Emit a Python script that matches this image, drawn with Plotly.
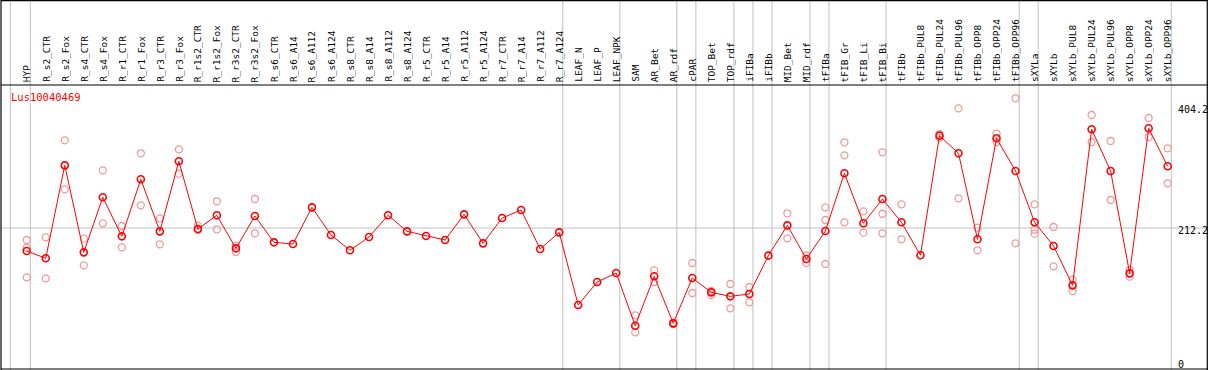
import plotly.graph_objects as go

gene = "Lus10040469"

categories = [
    "HYP", "R_s2_CTR", "R_s2_Fox", "R_s4_CTR", "R_s4_Fox", "R_r1_CTR", "R_r1_Fox",
    "R_r3_CTR", "R_r3_Fox", "R_r1s2_CTR", "R_r1s2_Fox", "R_r3s2_CTR", "R_r3s2_Fox",
    "R_s6_CTR", "R_s6_A14", "R_s6_A112", "R_s6_A124", "R_s8_CTR", "R_s8_A14",
    "R_s8_A112", "R_s8_A124", "R_r5_CTR", "R_r5_A14", "R_r5_A112", "R_r5_A124",
    "R_r7_CTR", "R_r7_A14", "R_r7_A112", "R_r7_A124", "LEAF_N", "LEAF_P", "LEAF_NPK",
    "SAM", "AR_Bet", "AR_rdf", "cPAR", "TOP_Bet", "TOP_rdf", "iFIBa", "iFIBb",
    "MID_Bet", "MID_rdf", "tFIBa", "tFIB_Gr", "tFIB_Li", "tFIB_Bi", "tFIBb",
    "tFIBb_PUL8", "tFIBb_PUL24", "tFIBb_PUL96", "tFIBb_OPP8", "tFIBb_OPP24",
    "tFIBb_OPP96", "sXYLa", "sXYLb", "sXYLb_PUL8", "sXYLb_PUL24", "sXYLb_PUL96",
    "sXYLb_OPP8", "sXYLb_OPP24", "sXYLb_OPP96",
]

means = [
    175.8, 164.2, 311.4, 173.6, 260.8, 199.0, 289.3, 206.9, 317.8, 210.6, 232.3,
    180.0, 231.2, 189.5, 186.9, 244.9, 201.1, 176.9, 197.9, 232.3, 206.9, 199.5,
    193.2, 233.8, 187.9, 228.0, 240.7, 178.9, 205.3, 90.3, 126.7, 140.9, 57.5,
    135.7, 61.2, 133.0, 110.3, 104.0, 107.7, 168.4, 216.4, 163.1, 207.4, 298.8,
    219.6, 258.1, 221.2, 169.0, 358.4, 330.5, 194.3, 354.2, 302.5, 221.2, 183.7,
    121.4, 368.5, 302.5, 140.4, 370.1, 309.9,
]

replicates = [
    [193.2, 181.0, 134.1], [197.4, 132.5], [351.0, 273.4], [195.3, 153.1],
    [303.5, 219.6], [215.4, 181.6], [330.5, 248.1], [227.5, 186.3], [336.8, 298.2],
    [215.9, 209.0], [254.5, 210.1], [184.2, 174.2], [258.1, 203.8],
    [], [], [], [], [], [], [], [], [], [], [], [], [], [], [], [],
    [], [], [],
    [73.9, 47.0], [145.2, 126.7], [62.5, 60.0], [156.8, 109.3], [112.4, 106.1],
    [123.5, 85.0], [118.8, 94.5], [], [235.5, 195.8], [169.0, 156.8],
    [244.9, 224.9, 155.2], [347.9, 327.3, 221.2], [238.6, 204.8],
    [332.1, 234.8, 203.8], [249.7, 194.3], [], [361.0, 355.0], [401.7, 259.2],
    [212.7, 176.9], [361.5, 347.9], [417.6, 187.9], [249.7, 209.5, 203.2],
    [213.8, 151.5], [130.3, 112.4], [391.1, 348.4], [350.0, 256.5], [145.7, 135.1],
    [386.4, 356.3], [338.4, 283.0],
]

# indices of categories after which a group separator is drawn
group_ends = [-1.05, 0, 28, 31, 34, 35, 37, 38, 39, 41, 42, 45, 52, 53, 60]
y_ticks = [0, 212.2, 404.2]
y_tick_labels = ["0", "212.2", "404.2"]

FONT = "DejaVu Sans Mono"
W, H = 1209, 370
MT, MB, ML, MR = 85, 1, 1, 1
plot_h = H - MT - MB
plot_w = W - ML - MR

x_idx = list(range(len(categories)))

rep_x, rep_y = [], []
for i, reps in enumerate(replicates):
    for v in reps:
        rep_x.append(i)
        rep_y.append(v)

fig = go.Figure()
fig.add_trace(go.Scatter(
    x=rep_x, y=rep_y, mode="markers",
    marker=dict(symbol="circle-open", size=7, color="#ee9a9a", line=dict(width=1.3)),
    hoverinfo="skip", showlegend=False,
))
fig.add_trace(go.Scatter(
    x=x_idx, y=means, mode="lines+markers",
    line=dict(color="#ff0000", width=1),
    marker=dict(symbol="circle-open", size=7, color="#ff0000", line=dict(width=1.6)),
    text=categories, showlegend=False,
))

shapes = []
top_paper = (H - MB) / plot_h
for g in group_ends:
    shapes.append(dict(type="line", xref="x", yref="paper", x0=g + 0.19, x1=g + 0.19,
                       y0=-0.01, y1=top_paper, line=dict(color="#c0c0c0", width=1), layer="below"))
shapes.append(dict(type="line", xref="paper", yref="y", x0=0, x1=1, y0=y_ticks[1], y1=y_ticks[1],
                   line=dict(color="#c0c0c0", width=1), layer="below"))
blk = dict(color="black", width=1.2)
shapes += [
    dict(type="line", xref="paper", yref="paper", x0=0, x1=0, y0=-0.01, y1=top_paper, line=blk),
    dict(type="line", xref="paper", yref="paper", x0=0.9994, x1=0.9994, y0=-0.01, y1=top_paper, line=blk),
    dict(type="line", xref="paper", yref="paper", x0=0, x1=1, y0=top_paper - 0.002, y1=top_paper - 0.002, line=blk),
    dict(type="line", xref="paper", yref="paper", x0=0, x1=1, y0=1, y1=1, line=blk),
    dict(type="line", xref="paper", yref="paper", x0=0, x1=1, y0=0.0, y1=0.0, line=blk),
]

annotations = []
label_y = (H - MB - 83) / plot_h
for i, c in enumerate(categories):
    annotations.append(dict(x=i, y=label_y, xref="x", yref="paper", text=c, textangle=-90,
                            showarrow=False, xanchor="center", yanchor="bottom",
                            font=dict(family=FONT, size=9.5, color="black"), borderpad=0))
annotations.append(dict(x=(10 - ML) / plot_w, y=(H - MB - 90) / plot_h, xref="paper", yref="paper",
                        text=gene, showarrow=False, xanchor="left", yanchor="top",
                        font=dict(family=FONT, size=10.5, color="#ff0000"), borderpad=0))
for v, t in zip(y_ticks, y_tick_labels):
    annotations.append(dict(x=(1177 - ML) / plot_w, y=v, xref="paper", yref="y", text=t, showarrow=False,
                            xanchor="left", yanchor="top", yshift=4,
                            font=dict(family=FONT, size=10, color="black"), borderpad=0))

fig.update_layout(
    width=W, height=H,
    margin=dict(l=ML, r=MR, t=MT, b=MB),
    paper_bgcolor="white", plot_bgcolor="white",
    xaxis=dict(range=[-1.353, 62.121], showgrid=False, zeroline=False, showticklabels=False,
               ticks="", fixedrange=True),
    yaxis=dict(range=[-11.08, 438.64], showgrid=False, zeroline=False, showticklabels=False,
               ticks="", fixedrange=True),
    shapes=shapes, annotations=annotations,
    showlegend=False,
)

fig.write_html("out.html", config={"displayModeBar": False},
               post_script="document.body.style.margin='0';document.body.style.overflow='hidden';")
